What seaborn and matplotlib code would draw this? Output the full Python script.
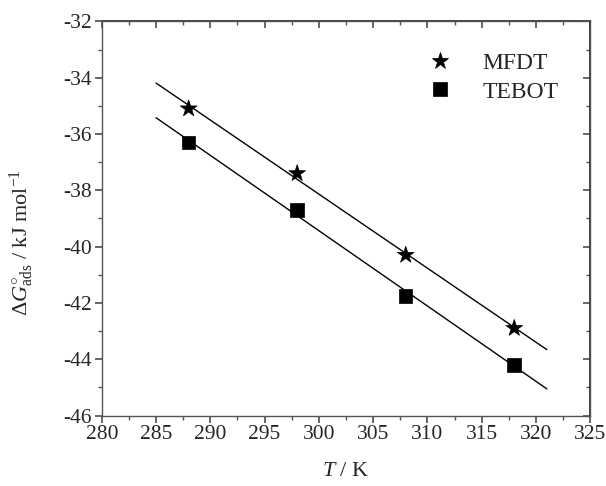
import numpy as np
import pandas as pd
import matplotlib
matplotlib.use("Agg")
import matplotlib.pyplot as plt
import seaborn as sns
from matplotlib.ticker import MultipleLocator

# data
temps = [288, 298, 308, 318]
mfdt = [-35.1, -37.4, -40.3, -42.9]
tebot = [-36.3, -38.7, -41.75, -44.2]
series_names = ["MFDT", "TEBOT"]

sns.set_theme(style="ticks")
plt.rcParams["font.family"] = ["Liberation Serif", "DejaVu Serif"]
plt.rcParams["mathtext.fontset"] = "custom"
plt.rcParams["mathtext.rm"] = "Liberation Serif"
plt.rcParams["mathtext.it"] = "Liberation Serif:italic"

df = pd.DataFrame({
    "T": temps * 2,
    "G": mfdt + tebot,
    "inhibitor": [series_names[0]] * 4 + [series_names[1]] * 4,
})

fig, ax = plt.subplots(figsize=(6.06, 4.86), dpi=100)
fig.subplots_adjust(left=0.168, right=0.974, top=0.956, bottom=0.145)

# linear fits drawn from 285 to 321 K
xfit = np.linspace(285, 321, 50)
for vals in (mfdt, tebot):
    k, b = np.polyfit(temps, vals, 1)
    sns.lineplot(x=xfit, y=k * xfit + b, ax=ax, color="black", lw=1.0)

sns.scatterplot(data=df, x="T", y="G", hue="inhibitor", style="inhibitor",
                size="inhibitor", sizes={"MFDT": 160, "TEBOT": 95},
                markers={"MFDT": "*", "TEBOT": "s"},
                palette={"MFDT": "black", "TEBOT": "black"},
                edgecolor="black", linewidth=0.5, ax=ax, zorder=3)

ax.set_xlim(280, 325)
ax.set_ylim(-46, -32)
ax.xaxis.set_major_locator(MultipleLocator(5))
ax.xaxis.set_minor_locator(MultipleLocator(2.5))
ax.yaxis.set_major_locator(MultipleLocator(2))
ax.yaxis.set_minor_locator(MultipleLocator(1))

for side in ax.spines.values():
    side.set_color("#555555")
    side.set_linewidth(1.0)

ax.tick_params(which="both", direction="out", labelsize=15.5, color="#555555",
               top=False, right=False, pad=2)
ax.tick_params(which="major", length=5)
ax.tick_params(which="minor", length=3)
ax.set_xticklabels([f"{int(t)}" for t in ax.get_xticks()])
ax.set_yticklabels([f"{int(t)}" for t in ax.get_yticks()])

# inward ticks on the top and right edges
sec_x = ax.secondary_xaxis("top")
sec_x.xaxis.set_major_locator(MultipleLocator(5))
sec_x.xaxis.set_minor_locator(MultipleLocator(2.5))
sec_x.tick_params(which="both", direction="in", labeltop=False, color="#555555")
sec_x.tick_params(which="major", length=5)
sec_x.tick_params(which="minor", length=3)
sec_y = ax.secondary_yaxis("right")
sec_y.yaxis.set_major_locator(MultipleLocator(2))
sec_y.yaxis.set_minor_locator(MultipleLocator(1))
sec_y.tick_params(which="both", direction="in", labelright=False, color="#555555")
sec_y.tick_params(which="major", length=5)
sec_y.tick_params(which="minor", length=3)

ax.set_xlabel(r"$T$ / K", fontsize=16, labelpad=13)
ax.set_ylabel(r"$\Delta G^{\circ}_{\rm ads}$ / kJ mol$^{-1}$", fontsize=16)
ax.yaxis.set_label_coords(-0.135, 0.44)

leg = ax.legend(loc="upper left", bbox_to_anchor=(0.6, 0.975), frameon=False,
                fontsize=17, handletextpad=0.8, labelspacing=0.3, markerscale=1.0)

fig.savefig("out.png", dpi=100)
